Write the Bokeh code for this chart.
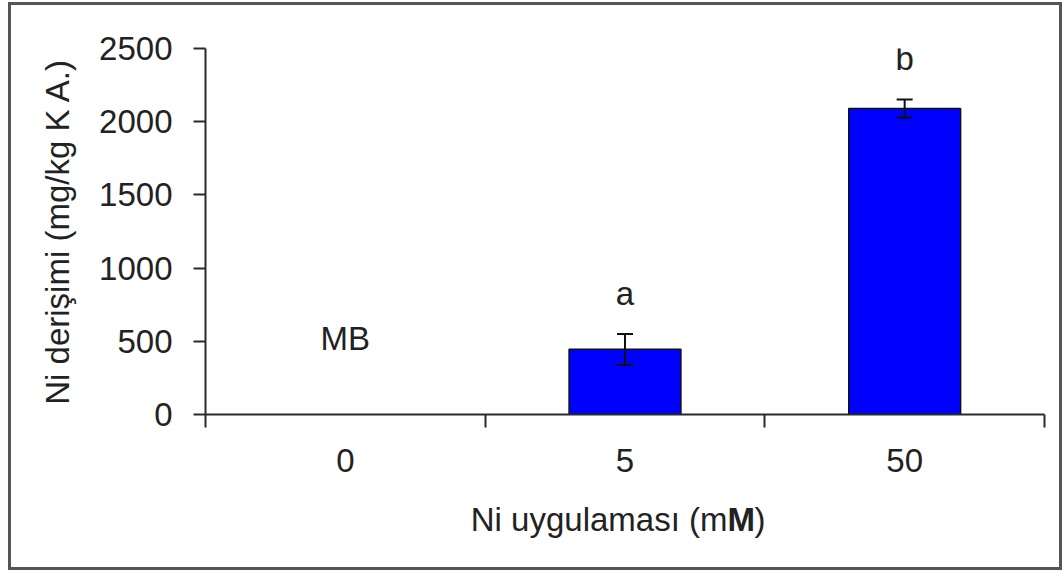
from bokeh.plotting import figure
from bokeh.layouts import column
from bokeh.models import (ColumnDataSource, FixedTicker, Whisker, Label,
                          LinearAxis, TeeHead)
from bokeh.core.properties import value
from bokeh.embed import file_html
from bokeh.resources import INLINE

# Ni treatment levels (mM) and measured Ni concentration (mg/kg)
doses = ["0", "5", "50"]
concentration = [None, 445, 2090]
std_error = [None, 105, 62]
group_letters = ["", "a", "b"]
not_detected_label = "MB"
not_detected_y = 520

FONT = "Liberation Sans"
TEXT = "#222222"
AXIS = "#2a2a2a"
FS = "33px"

xs = [i + 0.5 for i in range(len(doses))]
bar_src = ColumnDataSource(dict(
    x=[x for x, c in zip(xs, concentration) if c is not None],
    top=[c for c in concentration if c is not None],
    lower=[c - e for c, e in zip(concentration, std_error) if c is not None],
    upper=[c + e for c, e in zip(concentration, std_error) if c is not None],
    letter=[g for g, c in zip(group_letters, concentration) if c is not None],
))

p = figure(width=1048, height=490, output_backend="svg", toolbar_location=None,
           x_range=(0, len(doses)), y_range=(0, 2500),
           min_border_left=194, min_border_right=15,
           min_border_top=43, min_border_bottom=81,
           x_axis_type=None, y_axis_type=None)
p.outline_line_color = None
p.background_fill_color = "white"
p.border_fill_color = "white"
p.xgrid.grid_line_color = None
p.ygrid.grid_line_color = None

# y axis
yax = LinearAxis(ticker=FixedTicker(ticks=[0, 500, 1000, 1500, 2000, 2500], minor_ticks=[]))
yax.axis_label = "Ni derişimi (mg/kg K A.)"
yax.axis_label_text_font = FONT
yax.axis_label_text_font_size = FS
yax.axis_label_text_font_style = "normal"
yax.axis_label_text_color = TEXT
yax.axis_label_standoff = 20
yax.major_label_text_font = FONT
yax.major_label_text_font_size = FS
yax.major_label_text_color = TEXT
yax.major_label_standoff = 21
yax.major_tick_out = 12
yax.major_tick_in = 0
yax.major_tick_line_width = 2
yax.major_tick_line_color = AXIS
yax.axis_line_width = 2
yax.axis_line_color = AXIS
p.add_layout(yax, "left")

# x axis: labels centred on each dose, tick marks between doses
xax = LinearAxis(ticker=FixedTicker(ticks=xs, minor_ticks=list(range(len(doses) + 1))))
xax.major_label_overrides = {x: d for x, d in zip(xs, doses)}
xax.major_label_text_font = FONT
xax.major_label_text_font_size = FS
xax.major_label_text_color = TEXT
xax.major_label_standoff = 21
xax.major_tick_out = 0
xax.major_tick_in = 0
xax.minor_tick_out = 13
xax.minor_tick_in = 0
xax.minor_tick_line_width = 2
xax.minor_tick_line_color = AXIS
xax.axis_line_width = 2
xax.axis_line_color = AXIS
p.add_layout(xax, "below")

# bars
p.vbar(x="x", top="top", bottom=0, width=0.4, source=bar_src,
       fill_color="#0000FF", line_color="#111111", line_width=1.5)

# error bars, drawn over the bars
p.add_layout(Whisker(source=bar_src, base="x", lower="lower", upper="upper",
                     level="overlay", line_color="#111111", line_width=2,
                     upper_head=TeeHead(size=16, line_width=2, line_color="#111111"),
                     lower_head=TeeHead(size=16, line_width=2, line_color="#111111")))

# significance letters above error bars
p.text(x="x", y="upper", text="letter", source=bar_src,
       text_font=value(FONT), text_font_size=FS, text_color=TEXT,
       text_align="center", text_baseline="bottom", y_offset=-22)

# not-detected marker for the control
p.add_layout(Label(x=xs[0], y=not_detected_y, text=not_detected_label,
                   text_font=FONT, text_font_size=FS, text_color=TEXT,
                   text_align="center", text_baseline="middle"))

# x axis title strip (with bold M) under the chart; its frame lines up
# with the chart frame above, so x is measured from the y axis
t = figure(width=1048, height=72, output_backend="svg", toolbar_location=None,
           x_range=(0, 1048), y_range=(0, 72), min_border=0,
           x_axis_type=None, y_axis_type=None)
t.outline_line_color = None
t.xgrid.grid_line_color = None
t.ygrid.grid_line_color = None
title_y = 48
split_x = 522
t.add_layout(Label(x=split_x, y=title_y, x_units="screen", y_units="screen",
                   text="Ni uygulaması (m", text_font=FONT, text_font_size=FS,
                   text_color=TEXT, text_align="right", text_baseline="middle"))
t.add_layout(Label(x=split_x, y=title_y, x_units="screen", y_units="screen",
                   text="M", text_font=FONT, text_font_size=FS,
                   text_font_style="bold", text_color=TEXT,
                   text_align="left", text_baseline="middle"))
t.add_layout(Label(x=split_x + 27, y=title_y, x_units="screen", y_units="screen",
                   text=")", text_font=FONT, text_font_size=FS,
                   text_color=TEXT, text_align="left", text_baseline="middle"))

# grey frame around the whole chart
layout = column(p, t, spacing=0)
layout.styles = {"border": "3px solid #555555", "margin-left": "8px", "margin-top": "2px"}

open("out.html", "w").write(file_html(layout, INLINE))
